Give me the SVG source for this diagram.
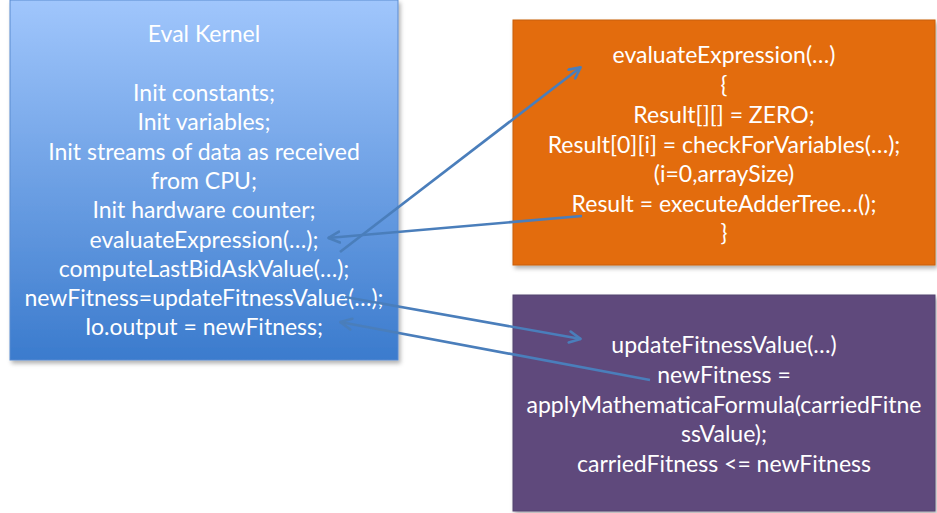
<svg xmlns="http://www.w3.org/2000/svg" width="937" height="513" viewBox="0 0 937 513">
  <defs>
    <linearGradient id="kernelFill" x1="0" y1="0" x2="0" y2="1">
      <stop offset="0" stop-color="#a0c6fc"/>
      <stop offset="1" stop-color="#3b7bcd"/>
    </linearGradient>
    <filter id="shadow" x="-5%" y="-5%" width="115%" height="115%">
      <feDropShadow dx="2" dy="3" stdDeviation="2" flood-color="#000" flood-opacity="0.3"/>
    </filter>
    <marker id="open" viewBox="0 0 14 14" refX="13" refY="7" markerWidth="14" markerHeight="14" markerUnits="userSpaceOnUse" orient="auto">
      <path d="M1.5,1.5 L12.5,7 L1.5,12.5" fill="none" stroke="#4a7ebb" stroke-width="2.6" stroke-linecap="round" stroke-linejoin="round"/>
    </marker>
  </defs>
  <style>
    .box { filter: url(#shadow); }
    .t { font-family: Lato, "Liberation Sans", sans-serif; font-size: 23px; fill: #ffffff; text-anchor: middle; }
    .conn { fill: none; stroke: #4a7ebb; stroke-width: 2.6; marker-end: url(#open); }
  </style>
  <rect width="937" height="513" fill="#ffffff"/>

  <g id="eval-kernel">
    <rect class="box" x="10" y="0" width="388" height="360" fill="url(#kernelFill)" stroke="#5a8bd0" stroke-width="1"/>
    <text class="t" x="204" y="42">Eval Kernel</text>
    <text class="t" x="204" y="101">Init constants;</text>
    <text class="t" x="204" y="130">Init variables;</text>
    <text class="t" x="204" y="160">Init streams of data as received</text>
    <text class="t" x="204" y="189">from CPU;</text>
    <text class="t" x="204" y="218">Init hardware counter;</text>
    <text class="t" x="204" y="248">evaluateExpression(…);</text>
    <text class="t" x="204" y="277">computeLastBidAskValue(…);</text>
    <text class="t" x="204" y="306">newFitness=updateFitnessValue(…);</text>
    <text class="t" x="204" y="335">Io.output = newFitness;</text>
  </g>

  <g id="evaluate-expression">
    <rect class="box" x="513" y="20" width="422" height="245" fill="#e36c0b" stroke="#c85e08" stroke-width="1"/>
    <text class="t" x="724" y="63">evaluateExpression(…)</text>
    <text class="t" x="724" y="93">{</text>
    <text class="t" x="724" y="123">Result[][] = ZERO;</text>
    <text class="t" x="724" y="153">Result[0][i] = checkForVariables(…);</text>
    <text class="t" x="724" y="182">(i=0,arraySize)</text>
    <text class="t" x="724" y="212">Result = executeAdderTree…();</text>
    <text class="t" x="724" y="241">}</text>
  </g>

  <g id="update-fitness">
    <rect class="box" x="513" y="295" width="422" height="216" fill="#5f4a7b" stroke="#544370" stroke-width="1"/>
    <text class="t" x="724" y="353">updateFitnessValue(…)</text>
    <text class="t" x="724" y="383">newFitness =</text>
    <text class="t" x="724" y="413">applyMathematicaFormula(carriedFitne</text>
    <text class="t" x="724" y="442">ssValue);</text>
    <text class="t" x="724" y="472">carriedFitness &lt;= newFitness</text>
  </g>

  <g id="connectors">
    <line class="conn" x1="340" y1="252" x2="581" y2="67"/>
    <line class="conn" x1="582" y1="216" x2="328" y2="238"/>
    <line class="conn" x1="345" y1="297" x2="581" y2="339"/>
    <line class="conn" x1="650" y1="380" x2="340" y2="322"/>
  </g>
</svg>
